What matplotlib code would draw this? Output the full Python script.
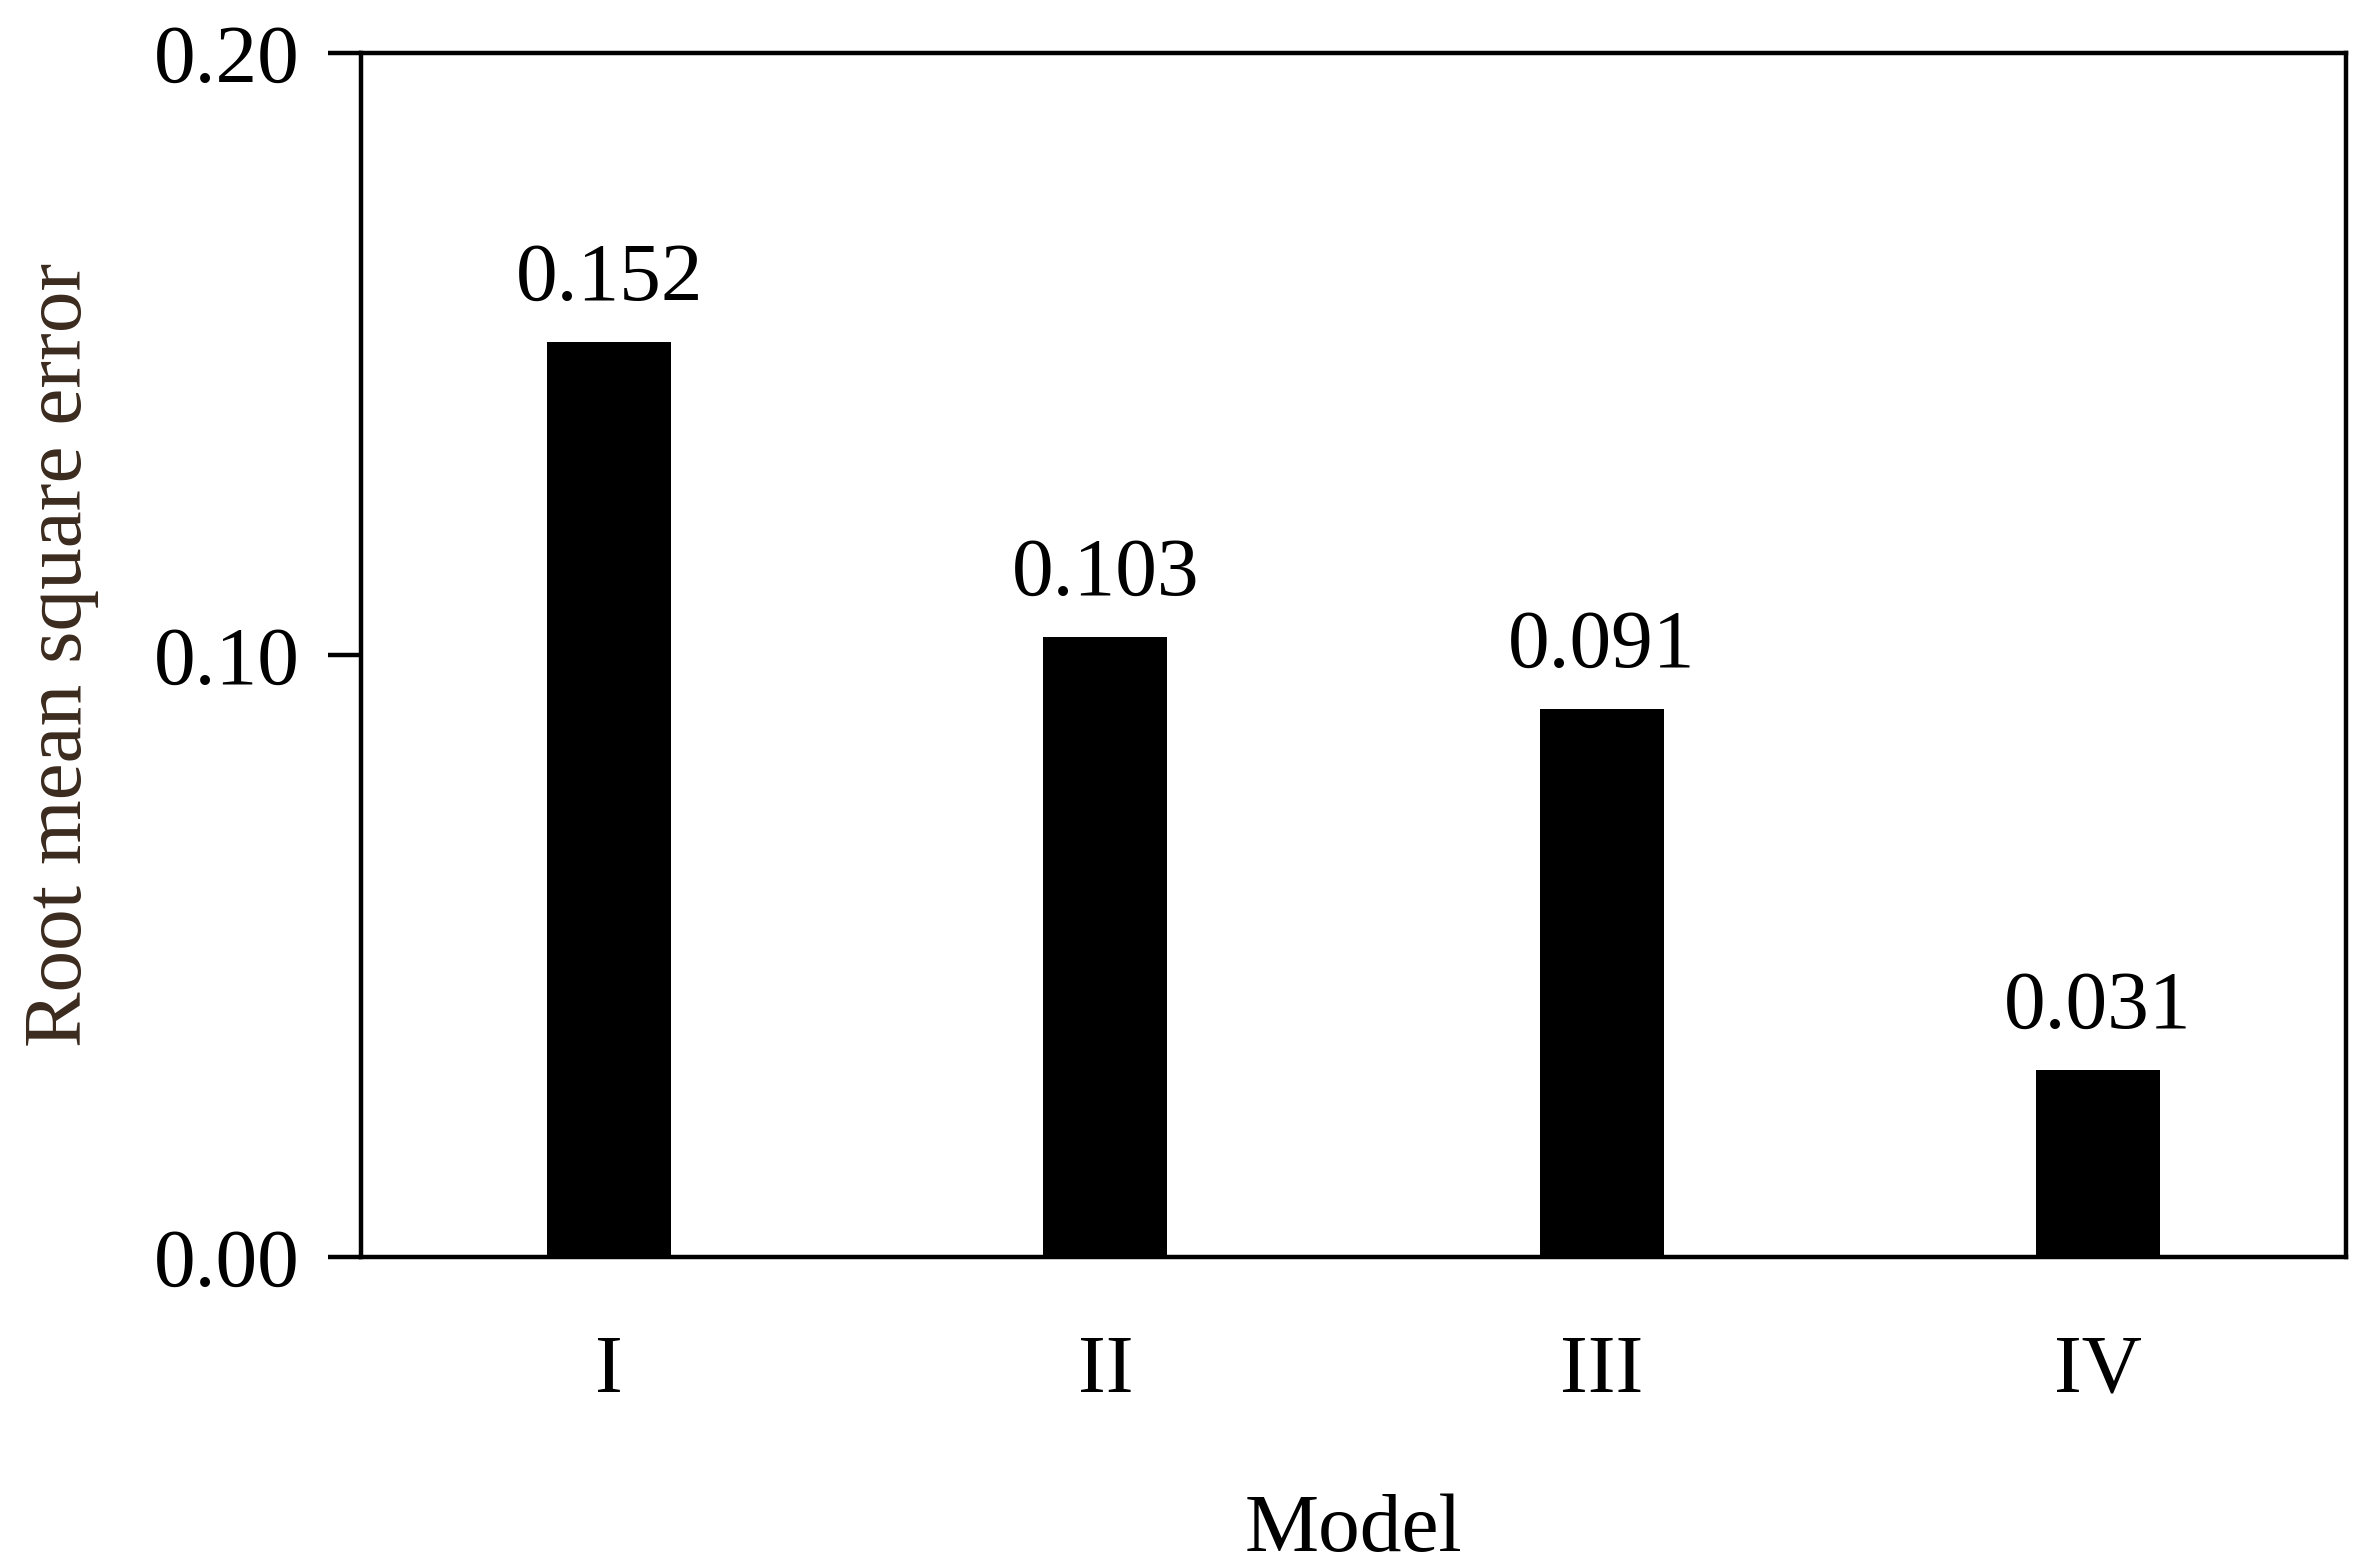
import matplotlib
matplotlib.use("Agg")
import matplotlib.pyplot as plt

models = ["I", "II", "III", "IV"]
rmse = [0.152, 0.103, 0.091, 0.031]
labels = ["0.152", "0.103", "0.091", "0.031"]

plt.rcParams["font.family"] = ["Liberation Serif", "DejaVu Serif"]

fig = plt.figure(figsize=(11.8, 7.825), dpi=200)
ax = fig.add_axes([0.153, 0.197, 0.841, 0.769])
x = list(range(len(models)))
ax.bar(x, rmse, width=0.25, color="black")
for xi, v, t in zip(x, rmse, labels):
    ax.text(xi, v + 0.004, t, ha="center", va="bottom", fontsize=30)

ax.set_xlim(-0.5, 3.5)
ax.set_ylim(0, 0.2)
ax.set_yticks([0.0, 0.1, 0.2])
ax.set_yticklabels(["0.00", "0.10", "0.20"])
ax.set_xticks(x)
ax.set_xticklabels(models)
ax.tick_params(axis="x", length=0, pad=28, labelsize=30)
ax.tick_params(axis="y", length=12, width=1.6, direction="out", pad=10, labelsize=30)
for s in ax.spines.values():
    s.set_linewidth(1.6)
ax.set_xlabel("Model", fontsize=30, labelpad=30)
ax.set_ylabel("Root mean square error", fontsize=30, color="#3b2a1e", labelpad=20)

fig.savefig("out.png")
